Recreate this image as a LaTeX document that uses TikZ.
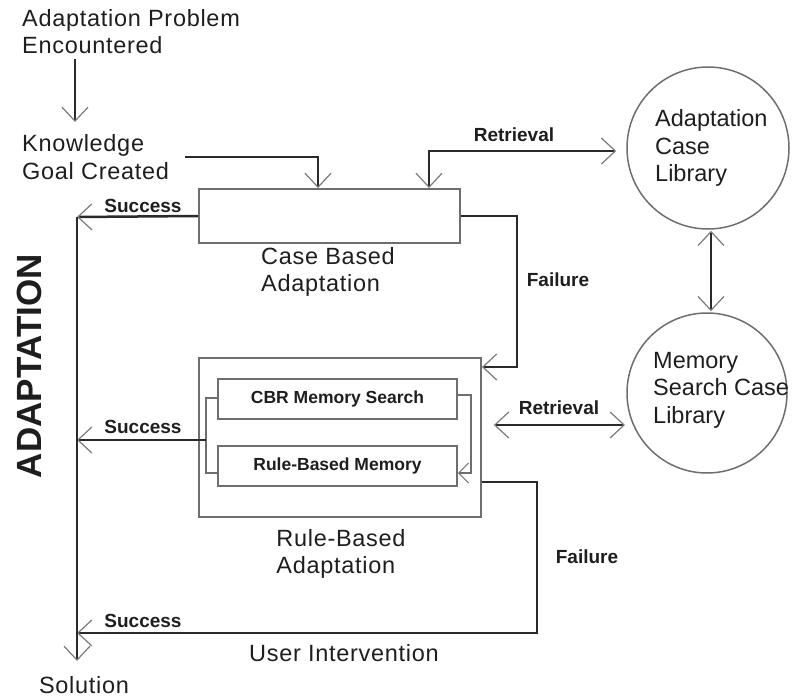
\documentclass[tikz,border=0pt]{standalone}
\usepackage{fontspec}
\setmainfont{Liberation Sans}
\newfontfamily\widesans[LetterSpace=3]{Liberation Sans}
\usetikzlibrary{arrows.meta,calc}
\definecolor{ink}{HTML}{1E1E1E}
\definecolor{wirec}{HTML}{2A2A2A}
\definecolor{edge}{HTML}{6E6E6E}
\definecolor{barbc}{HTML}{7A7A7A}
\begin{document}
\begin{tikzpicture}[x=1pt,y=-1pt,
  every node/.style={inner sep=0pt,text=ink},
  big/.style={font=\widesans\fontsize{23.5}{27.5}\selectfont,align=left},
  liblab/.style={font=\fontsize{23.5}{27.5}\selectfont,align=left,anchor=west},
  lab/.style={font=\fontsize{19}{22}\selectfont\bfseries},
  boxtext/.style={font=\fontsize{17.5}{20}\selectfont\bfseries},
  box/.style={draw=edge,line width=1.8pt},
  lib/.style={draw=edge,line width=1.5pt,circle},
  wire/.style={draw=wirec,line width=2.5pt},
  thinwire/.style={draw=edge,line width=1.5pt},
  tip/.style={-{Straight Barb[length=14pt,width=26pt,line width=1.2pt,color=barbc]}},
  tips/.style={{Straight Barb[length=14pt,width=26pt,line width=1.2pt,color=barbc]}-{Straight Barb[length=14pt,width=26pt,line width=1.2pt,color=barbc]}},
  smalltip/.style={-{Straight Barb[length=10pt,width=20pt,line width=1.1pt,color=barbc]}}
]
\path[use as bounding box] (0,0) rectangle (793,698);

% start of the process
\node[big,anchor=west] (prob) at (22,31.5) {Adaptation Problem\\Encountered};
\node[big,anchor=west] (goal) at (22,157) {Knowledge\\Goal Created};

% adaptation stages
\node[box,minimum width=261pt,minimum height=54pt] (cba) at (329.5,216) {};
\node[big] (cbalab) at (328,272) {Case Based\\Adaptation};

\node[box,minimum width=282pt,minimum height=159pt] (rba) at (340,437.5) {};
\node[boxtext,box,minimum width=239pt,minimum height=40pt] (cbr) at (337.5,399) {CBR Memory Search};
\node[boxtext,box,minimum width=239pt,minimum height=40pt] (rbm) at (337.5,466) {Rule-Based Memory};
\node[big] (rbalab) at (341,554) {Rule-Based\\Adaptation};

% case libraries
\node[lib,minimum size=162pt] (lib1) at (708,148) {};
\node[liblab] (lib1lab) at (655,148) {Adaptation\\Case\\Library};
\node[lib,minimum size=160pt] (lib2) at (707,393) {};
\node[liblab] (lib2lab) at (653,390) {Memory\\Search Case\\Library};

% outcome labels
\node[font=\fontsize{35}{40}\selectfont\bfseries,rotate=90] (title) at (29,366) {ADAPTATION};
\node[lab] (succ1) at (143,206) {Success};
\node[lab] (succ2) at (143,427) {Success};
\node[lab] (succ3) at (143,621) {Success};
\node[lab] (fail1) at (558,280) {Failure};
\node[lab] (fail2) at (587,557) {Failure};
\node[lab] (retr1) at (514,135) {Retrieval};
\node[lab] (retr2) at (559,408) {Retrieval};
\node[big] (user) at (344,653) {User Intervention};
\node[big] (sol) at (84,685) {Solution};

% junction points on the main line
\coordinate (jtop) at (77,217);
\coordinate (jend) at (77,661);

% connectors
\draw[wire,tip] (75,0 |- prob.south) ++(0,5) -- (75,122);
\draw[wire,tip] ($(goal.east)+(16,0)$) -| (318,0 |- cba.north);
\draw[wire,tips,shorten >=10pt] (429,0 |- cba.north) |- (lib1.west |- 0,151);
\draw[wire,tips,shorten <=1pt,shorten >=1pt] (lib1.south -| 711,0) -- (lib2.north -| 711,0);
\draw[wire,tip] (cba.east) -| (517,367) -- (rba.east |- 0,367);
\draw[wire,tips] ($(rba.east |- 0,425)+(12,0)$) -- (625,425);

\draw[wire,tip] (cba.west) -- (jtop);
\draw[thinwire] (cbr.west |- 0,398) -- (206,398) -- (206,473) -- (rbm.west |- 0,473);
\draw[wire,tip] (206,440) -- (jtop |- 0,440);
\draw[thinwire,smalltip] (cbr.east |- 0,395) -- (471,395) -- (471,473) -- (rbm.east |- 0,473);

\draw[wire,tip] (rba.east |- 0,482) -| (537,633) -- (jtop |- 0,633);
\draw[wire,tip] (jtop) -- (jend);
\end{tikzpicture}
\end{document}
